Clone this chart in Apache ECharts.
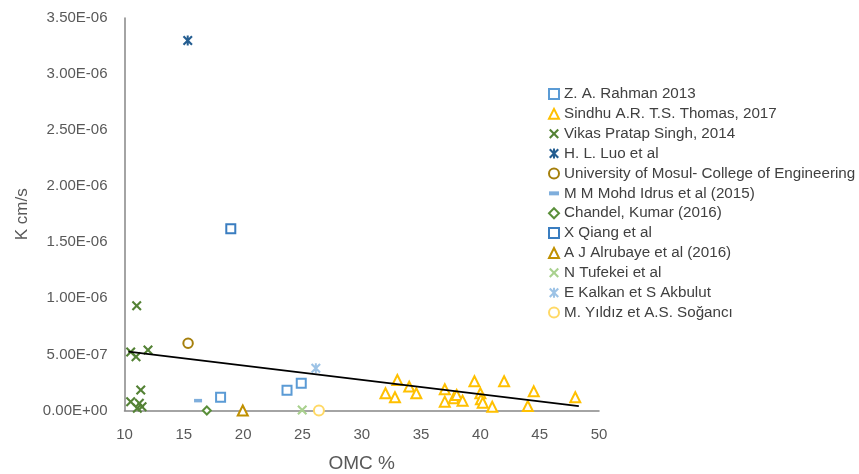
<!DOCTYPE html>
<html>
<head>
<meta charset="utf-8">
<script src="https://cdn.jsdelivr.net/npm/echarts@6/dist/echarts.min.js"></script>
<style>html,body{margin:0;padding:0;background:#fff}#c{width:859px;height:474px}</style>
</head>
<body>
<div id="c"></div>
<script>
// ---- Data (OMC %, K cm/s) ----
const seriesNames = [
  "Z. A. Rahman 2013",
  "Sindhu A.R. T.S. Thomas, 2017",
  "Vikas Pratap Singh, 2014",
  "H. L. Luo et al",
  "University of Mosul- College of Engineering",
  "M M Mohd Idrus et al (2015)",
  "Chandel, Kumar (2016)",
  "X Qiang et al",
  "A J Alrubaye et al (2016)",
  "N Tufekei et al",
  "E Kalkan et S Akbulut",
  "M. Yıldız et A.S. Soğancı"
];
const rahman = [[18.1, 1.18e-7], [23.7, 1.80e-7], [24.9, 2.43e-7]];
const sindhu = [
  [32.0, 1.54e-7], [33.0, 2.72e-7], [32.8, 1.18e-7], [34.0, 2.13e-7], [34.6, 1.54e-7],
  [37.0, 1.89e-7], [37.0, 0.79e-7], [37.75, 1.09e-7], [38.0, 1.38e-7], [38.5, 0.88e-7],
  [39.5, 2.61e-7], [40.0, 1.54e-7], [40.05, 1.00e-7], [40.2, 0.70e-7], [41.0, 0.34e-7],
  [42.0, 2.61e-7], [44.0, 0.40e-7], [44.5, 1.71e-7], [48.0, 1.18e-7]
];
const vikas = [
  [11.03, 9.33e-7], [10.52, 5.22e-7], [10.97, 4.80e-7], [11.98, 5.40e-7], [11.37, 1.83e-7],
  [10.52, 0.79e-7], [11.25, 0.64e-7], [11.08, 0.20e-7], [11.48, 0.34e-7]
];
const luo = [[15.33, 3.30e-6]];
const mosul = [[15.36, 6.0e-7]];
const idrus = [[16.2, 0.88e-7]];
const chandel = [[16.94, 0.0]];
const qiang = [[18.96, 1.62e-6]];
const alrubaye = [[19.97, 0.0]];
const tufekei = [[24.98, 0.05e-7]];
const kalkan = [[26.13, 3.77e-7]];
const yildiz = [[26.39, 0.0]];
const trendline = [[10.32, 5.25e-7], [48.3, 0.39e-7]];

const xTickMin = 10, xTickMax = 50, xTickStep = 5;
const yTickMin = 0, yTickMax = 3.5e-6, yTickStep = 5e-7;

// ---- Chart ----
const X_PATH = 'path://M0,1.5L1.5,0L5,3.5L8.5,0L10,1.5L6.5,5L10,8.5L8.5,10L5,6.5L1.5,10L0,8.5L3.5,5Z';
const STAR_PATH = 'path://M0,1.5L1.5,0L5,3.5L8.5,0L10,1.5L6.5,5L10,8.5L8.5,10L5,6.5L1.5,10L0,8.5L3.5,5Z M4,0L6,0L6,10L4,10Z';
const DASH_PATH = 'path://M0,0L10,0L10,4L0,4Z';

function hollow(name, data, symbol, size, color) {
  return {
    name, type: 'scatter', data, symbol, symbolSize: size, clip: false,
    itemStyle: { color: '#ffffff', borderColor: color, borderWidth: 2, opacity: 1 },
    emphasis: { disabled: true }, z: 3
  };
}
function filled(name, data, symbol, size, color) {
  return {
    name, type: 'scatter', data, symbol, symbolSize: size, clip: false,
    itemStyle: { color: color, borderWidth: 0, opacity: 1 },
    emphasis: { disabled: true }, z: 3
  };
}

function fmtExp(v) {
  const parts = Number(v).toExponential(2).split('e');
  const sign = parts[1][0];
  const digits = parts[1].slice(1).padStart(2, '0');
  return parts[0] + 'E' + sign + digits;
}

const chart = echarts.init(document.getElementById('c'), null, { renderer: 'canvas' });
const axisColor = '#868686';
const labelColor = '#595959';
const font = 'Liberation Sans, Arial, sans-serif';

chart.setOption({
  animation: false,
  backgroundColor: '#ffffff',
  grid: { left: 124.5, right: 260, top: 18, bottom: 63.5, containLabel: false, outerBoundsMode: 'none' },
  xAxis: {
    type: 'value', min: xTickMin, max: xTickMax, interval: xTickStep,
    name: 'OMC %', nameLocation: 'middle', nameGap: 44,
    nameTextStyle: { fontSize: 19, color: labelColor, fontFamily: font },
    axisLine: { show: true, onZero: false, lineStyle: { color: axisColor, width: 1.5 } },
    axisTick: { show: false },
    splitLine: { show: false },
    axisLabel: { fontSize: 15, color: labelColor, fontFamily: font, margin: 17 }
  },
  yAxis: {
    type: 'value', min: yTickMin, max: yTickMax, interval: yTickStep,
    name: 'K cm/s', nameLocation: 'middle', nameGap: 94, nameRotate: 90,
    nameTextStyle: { fontSize: 17, color: labelColor, fontFamily: font },
    axisLine: { show: true, onZero: false, lineStyle: { color: axisColor, width: 1.5 } },
    axisTick: { show: false },
    splitLine: { show: false },
    axisLabel: { fontSize: 15, color: labelColor, fontFamily: font, margin: 17, formatter: fmtExp }
  },
  legend: {
    orient: 'vertical', left: 543, top: 81,
    itemWidth: 10, itemHeight: 10, itemGap: 3.87, itemTextGap: 5,
    textStyle: { fontSize: 15.2, color: '#404040', fontFamily: font, lineHeight: 16 },
    data: seriesNames,
    selectedMode: false
  },
  series: [
    hollow(seriesNames[0], rahman, 'rect', 9, '#5B9BD5'),
    hollow(seriesNames[1], sindhu, 'triangle', 10, '#FFC000'),
    filled(seriesNames[2], vikas, X_PATH, 10, '#548235'),
    filled(seriesNames[3], luo, STAR_PATH, 10, '#255E91'),
    hollow(seriesNames[4], mosul, 'circle', 9.5, '#A57F0C'),
    filled(seriesNames[5], idrus, DASH_PATH, [8, 3.5], '#7FAEDC'),
    hollow(seriesNames[6], chandel, 'diamond', 8, '#5A8F3A'),
    hollow(seriesNames[7], qiang, 'rect', 9, '#3A7DC0'),
    hollow(seriesNames[8], alrubaye, 'triangle', 10, '#C09000'),
    filled(seriesNames[9], tufekei, X_PATH, 10, '#A9D18E'),
    filled(seriesNames[10], kalkan, STAR_PATH, 10, '#9DC3E6'),
    hollow(seriesNames[11], yildiz, 'circle', 10, '#FFD966'),
    {
      name: 'trend', type: 'line', data: trendline, symbol: 'none', clip: false,
      lineStyle: { color: '#000000', width: 2 }, z: 4, silent: true
    }
  ]
});
</script>
</body>
</html>
